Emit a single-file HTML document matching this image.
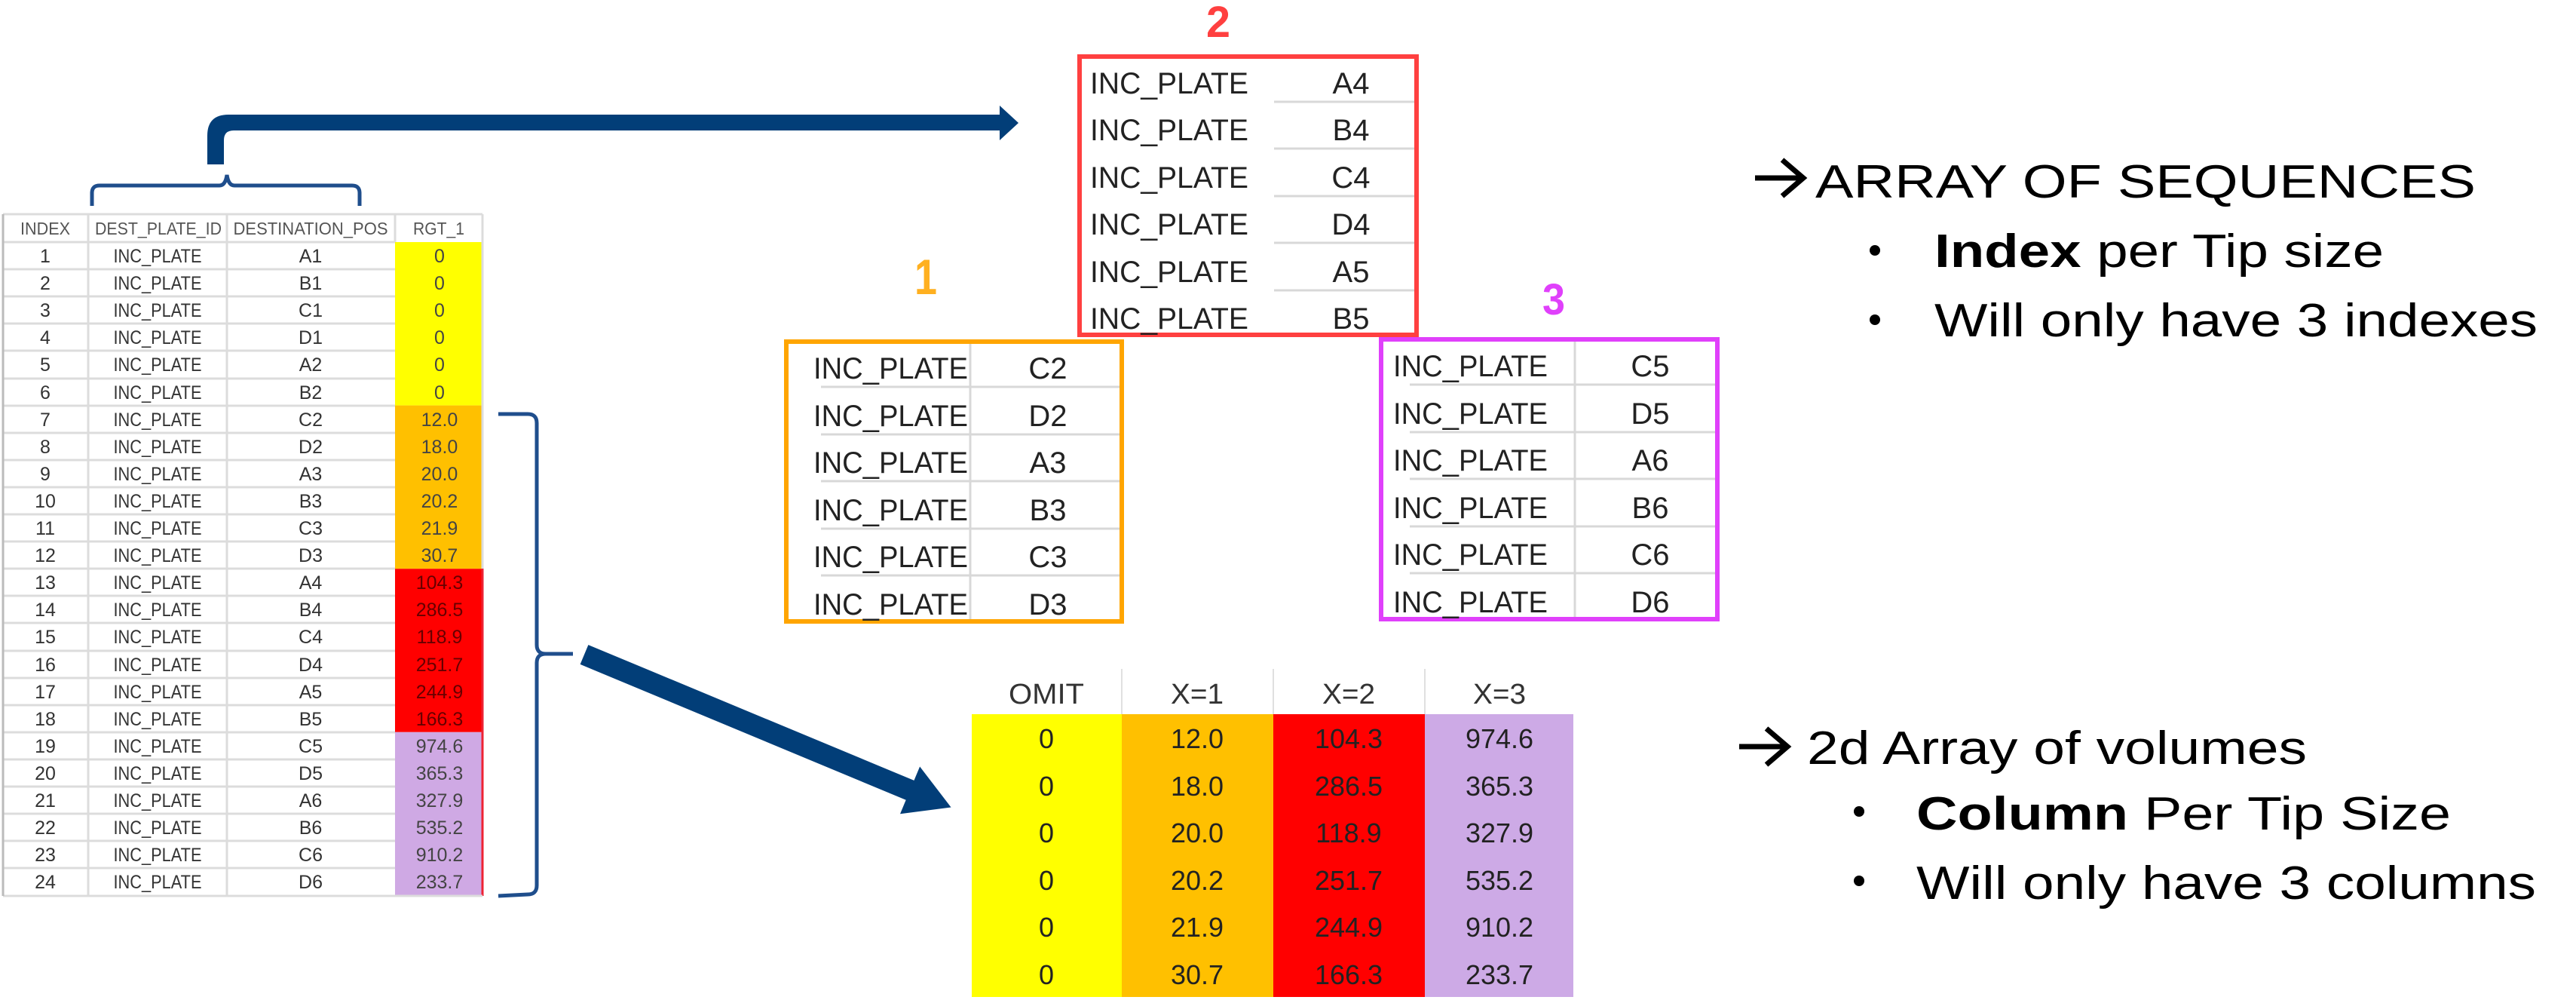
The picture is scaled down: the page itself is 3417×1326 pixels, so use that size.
<!DOCTYPE html>
<html><head><meta charset="utf-8"><style>html,body{margin:0;padding:0;background:#fff}svg{display:block}</style></head>
<body>
<svg width="3417" height="1326" viewBox="0 0 3417 1326" xmlns="http://www.w3.org/2000/svg" font-family="Liberation Sans, Arial, sans-serif">
<rect width="3417" height="1326" fill="#fff"/>

<!-- LEFT TABLE -->
<rect x="524" y="321" width="116" height="216.6" fill="#ffff00"/>
<rect x="524" y="537.6" width="116" height="216.6" fill="#ffc000"/>
<rect x="524" y="754.2" width="116" height="216.6" fill="#ff0000"/>
<rect x="524" y="970.8" width="116" height="217" fill="#cfa9e4"/>
<line x1="640" y1="754" x2="640" y2="1188" stroke="#ee2233" stroke-width="3"/>
<g stroke="#dcdcdc" stroke-width="3">
<line x1="4" y1="284" x2="640" y2="284"/>
<line x1="4" y1="321" x2="524" y2="321"/><line x1="4" y1="357" x2="524" y2="357"/><line x1="4" y1="393" x2="524" y2="393"/><line x1="4" y1="429" x2="524" y2="429"/><line x1="4" y1="465" x2="524" y2="465"/><line x1="4" y1="502" x2="524" y2="502"/><line x1="4" y1="538" x2="524" y2="538"/><line x1="4" y1="574" x2="524" y2="574"/><line x1="4" y1="610" x2="524" y2="610"/><line x1="4" y1="646" x2="524" y2="646"/><line x1="4" y1="682" x2="524" y2="682"/><line x1="4" y1="718" x2="524" y2="718"/><line x1="4" y1="754" x2="524" y2="754"/><line x1="4" y1="790" x2="524" y2="790"/><line x1="4" y1="826" x2="524" y2="826"/><line x1="4" y1="863" x2="524" y2="863"/><line x1="4" y1="899" x2="524" y2="899"/><line x1="4" y1="935" x2="524" y2="935"/><line x1="4" y1="971" x2="524" y2="971"/><line x1="4" y1="1007" x2="524" y2="1007"/><line x1="4" y1="1043" x2="524" y2="1043"/><line x1="4" y1="1079" x2="524" y2="1079"/><line x1="4" y1="1115" x2="524" y2="1115"/><line x1="4" y1="1151" x2="524" y2="1151"/><line x1="4" y1="1188" x2="640" y2="1188"/>
<line x1="117" y1="284" x2="117" y2="1188"/><line x1="301" y1="284" x2="301" y2="1188"/><line x1="524" y1="284" x2="524" y2="321"/><line x1="640" y1="284" x2="640" y2="754"/>
</g>
<line x1="4" y1="284" x2="4" y2="1188" stroke="#bbb" stroke-width="3"/>
<g font-size="23" fill="#555" text-anchor="middle">
<text x="60" y="311" textLength="66" lengthAdjust="spacingAndGlyphs">INDEX</text>
<text x="210" y="311" textLength="168" lengthAdjust="spacingAndGlyphs">DEST_PLATE_ID</text>
<text x="412" y="311" textLength="205" lengthAdjust="spacingAndGlyphs">DESTINATION_POS</text>
<text x="582" y="311" textLength="68" lengthAdjust="spacingAndGlyphs">RGT_1</text>
</g>
<g font-size="25" fill="#333" text-anchor="middle">
<text x="60" y="348">1</text><text x="60" y="384">2</text><text x="60" y="420">3</text><text x="60" y="456">4</text><text x="60" y="492">5</text><text x="60" y="529">6</text><text x="60" y="565">7</text><text x="60" y="601">8</text><text x="60" y="637">9</text><text x="60" y="673">10</text><text x="60" y="709">11</text><text x="60" y="745">12</text><text x="60" y="781">13</text><text x="60" y="817">14</text><text x="60" y="853">15</text><text x="60" y="890">16</text><text x="60" y="926">17</text><text x="60" y="962">18</text><text x="60" y="998">19</text><text x="60" y="1034">20</text><text x="60" y="1070">21</text><text x="60" y="1106">22</text><text x="60" y="1142">23</text><text x="60" y="1178">24</text>
</g>
<g font-size="25" fill="#333" text-anchor="middle">
<text x="209" y="348" textLength="117" lengthAdjust="spacingAndGlyphs">INC_PLATE</text><text x="209" y="384" textLength="117" lengthAdjust="spacingAndGlyphs">INC_PLATE</text><text x="209" y="420" textLength="117" lengthAdjust="spacingAndGlyphs">INC_PLATE</text><text x="209" y="456" textLength="117" lengthAdjust="spacingAndGlyphs">INC_PLATE</text><text x="209" y="492" textLength="117" lengthAdjust="spacingAndGlyphs">INC_PLATE</text><text x="209" y="529" textLength="117" lengthAdjust="spacingAndGlyphs">INC_PLATE</text><text x="209" y="565" textLength="117" lengthAdjust="spacingAndGlyphs">INC_PLATE</text><text x="209" y="601" textLength="117" lengthAdjust="spacingAndGlyphs">INC_PLATE</text><text x="209" y="637" textLength="117" lengthAdjust="spacingAndGlyphs">INC_PLATE</text><text x="209" y="673" textLength="117" lengthAdjust="spacingAndGlyphs">INC_PLATE</text><text x="209" y="709" textLength="117" lengthAdjust="spacingAndGlyphs">INC_PLATE</text><text x="209" y="745" textLength="117" lengthAdjust="spacingAndGlyphs">INC_PLATE</text><text x="209" y="781" textLength="117" lengthAdjust="spacingAndGlyphs">INC_PLATE</text><text x="209" y="817" textLength="117" lengthAdjust="spacingAndGlyphs">INC_PLATE</text><text x="209" y="853" textLength="117" lengthAdjust="spacingAndGlyphs">INC_PLATE</text><text x="209" y="890" textLength="117" lengthAdjust="spacingAndGlyphs">INC_PLATE</text><text x="209" y="926" textLength="117" lengthAdjust="spacingAndGlyphs">INC_PLATE</text><text x="209" y="962" textLength="117" lengthAdjust="spacingAndGlyphs">INC_PLATE</text><text x="209" y="998" textLength="117" lengthAdjust="spacingAndGlyphs">INC_PLATE</text><text x="209" y="1034" textLength="117" lengthAdjust="spacingAndGlyphs">INC_PLATE</text><text x="209" y="1070" textLength="117" lengthAdjust="spacingAndGlyphs">INC_PLATE</text><text x="209" y="1106" textLength="117" lengthAdjust="spacingAndGlyphs">INC_PLATE</text><text x="209" y="1142" textLength="117" lengthAdjust="spacingAndGlyphs">INC_PLATE</text><text x="209" y="1178" textLength="117" lengthAdjust="spacingAndGlyphs">INC_PLATE</text>
</g>
<g font-size="25" fill="#333" text-anchor="middle">
<text x="412" y="348">A1</text><text x="412" y="384">B1</text><text x="412" y="420">C1</text><text x="412" y="456">D1</text><text x="412" y="492">A2</text><text x="412" y="529">B2</text><text x="412" y="565">C2</text><text x="412" y="601">D2</text><text x="412" y="637">A3</text><text x="412" y="673">B3</text><text x="412" y="709">C3</text><text x="412" y="745">D3</text><text x="412" y="781">A4</text><text x="412" y="817">B4</text><text x="412" y="853">C4</text><text x="412" y="890">D4</text><text x="412" y="926">A5</text><text x="412" y="962">B5</text><text x="412" y="998">C5</text><text x="412" y="1034">D5</text><text x="412" y="1070">A6</text><text x="412" y="1106">B6</text><text x="412" y="1142">C6</text><text x="412" y="1178">D6</text>
</g>
<g font-size="25" fill="#444" text-anchor="middle">
<text x="583" y="348">0</text><text x="583" y="384">0</text><text x="583" y="420">0</text><text x="583" y="456">0</text><text x="583" y="492">0</text><text x="583" y="529">0</text>
<text x="583" y="565">12.0</text><text x="583" y="601">18.0</text><text x="583" y="637">20.0</text><text x="583" y="673">20.2</text><text x="583" y="709">21.9</text><text x="583" y="745">30.7</text>
<text x="583" y="781" fill="#600">104.3</text><text x="583" y="817" fill="#600">286.5</text><text x="583" y="853" fill="#600">118.9</text><text x="583" y="890" fill="#600">251.7</text><text x="583" y="926" fill="#600">244.9</text><text x="583" y="962" fill="#600">166.3</text>
<text x="583" y="998">974.6</text><text x="583" y="1034">365.3</text><text x="583" y="1070">327.9</text><text x="583" y="1106">535.2</text><text x="583" y="1142">910.2</text><text x="583" y="1178">233.7</text>
</g>

<!-- top bracket -->
<path d="M122,273 L122,256 Q122,246 132,246 L291,246 Q299,246 301,232 Q303,246 311,246 L467,246 Q477,246 477,256 L477,273" fill="none" stroke="#1f4e8c" stroke-width="5"/>
<!-- bent thick arrow -->
<path d="M275,218 L275,180 Q275,152 303,152 L1326,152 L1326,140 L1351,163 L1326,186 L1326,173 L310,173 Q297,173 297,186 L297,218 Z" fill="#023e78"/>

<!-- right bracket -->
<path d="M661,549 L700,549 Q712,549 712,561 L712,855 Q712,867 724,867 L760,867" fill="none" stroke="#1f4e8c" stroke-width="5"/>
<path d="M724,867 Q712,867 712,879 L712,1174 Q712,1186 700,1186 L661,1188" fill="none" stroke="#1f4e8c" stroke-width="5"/>

<!-- diagonal arrow -->
<g transform="translate(775,868) rotate(22.6)">
<polygon points="0,-14 468,-14 468,-34 527,0 468,34 468,14 0,14" fill="#023e78"/>
</g>

<!-- Box 2 -->
<text x="1616" y="49" font-size="58" font-weight="bold" fill="#ff4040" text-anchor="middle" textLength="32" lengthAdjust="spacingAndGlyphs">2</text>
<g stroke="#d8d8d8" stroke-width="3">
<line x1="1690" y1="135" x2="1878" y2="135"/><line x1="1690" y1="197" x2="1878" y2="197"/><line x1="1690" y1="260" x2="1878" y2="260"/><line x1="1690" y1="322" x2="1878" y2="322"/><line x1="1690" y1="385" x2="1878" y2="385"/>
</g>
<rect x="1432" y="75" width="447" height="369" fill="none" stroke="#ff4040" stroke-width="6"/>
<g font-size="40" fill="#222">
<text x="1446" y="124" textLength="210" lengthAdjust="spacingAndGlyphs">INC_PLATE</text><text x="1446" y="186" textLength="210" lengthAdjust="spacingAndGlyphs">INC_PLATE</text><text x="1446" y="249" textLength="210" lengthAdjust="spacingAndGlyphs">INC_PLATE</text><text x="1446" y="311" textLength="210" lengthAdjust="spacingAndGlyphs">INC_PLATE</text><text x="1446" y="374" textLength="210" lengthAdjust="spacingAndGlyphs">INC_PLATE</text><text x="1446" y="436" textLength="210" lengthAdjust="spacingAndGlyphs">INC_PLATE</text>
</g>
<g font-size="40" fill="#222" text-anchor="middle">
<text x="1792" y="124">A4</text><text x="1792" y="186">B4</text><text x="1792" y="249">C4</text><text x="1792" y="311">D4</text><text x="1792" y="374">A5</text><text x="1792" y="436">B5</text>
</g>

<!-- Box 1 -->
<text x="1228" y="390" font-size="66" font-weight="bold" fill="#ffb020" text-anchor="middle" textLength="30" lengthAdjust="spacingAndGlyphs">1</text>
<g stroke="#d8d8d8" stroke-width="3">
<line x1="1287" y1="453" x2="1287" y2="824"/>
<line x1="1089" y1="513" x2="1488" y2="513"/><line x1="1089" y1="576" x2="1488" y2="576"/><line x1="1089" y1="638" x2="1488" y2="638"/><line x1="1089" y1="701" x2="1488" y2="701"/><line x1="1089" y1="763" x2="1488" y2="763"/>
</g>
<rect x="1043" y="453" width="445" height="371" fill="none" stroke="#ffa500" stroke-width="6"/>
<g font-size="40" fill="#222">
<text x="1079" y="502" textLength="205" lengthAdjust="spacingAndGlyphs">INC_PLATE</text><text x="1079" y="565" textLength="205" lengthAdjust="spacingAndGlyphs">INC_PLATE</text><text x="1079" y="627" textLength="205" lengthAdjust="spacingAndGlyphs">INC_PLATE</text><text x="1079" y="690" textLength="205" lengthAdjust="spacingAndGlyphs">INC_PLATE</text><text x="1079" y="752" textLength="205" lengthAdjust="spacingAndGlyphs">INC_PLATE</text><text x="1079" y="815" textLength="205" lengthAdjust="spacingAndGlyphs">INC_PLATE</text>
</g>
<g font-size="40" fill="#222" text-anchor="middle">
<text x="1390" y="502">C2</text><text x="1390" y="565">D2</text><text x="1390" y="627">A3</text><text x="1390" y="690">B3</text><text x="1390" y="752">C3</text><text x="1390" y="815">D3</text>
</g>

<!-- Box 3 -->
<text x="2061" y="417" font-size="58" font-weight="bold" fill="#e040fb" text-anchor="middle" textLength="30" lengthAdjust="spacingAndGlyphs">3</text>
<g stroke="#d8d8d8" stroke-width="3">
<line x1="2089" y1="450" x2="2089" y2="821"/>
<line x1="1870" y1="510" x2="2278" y2="510"/><line x1="1870" y1="573" x2="2278" y2="573"/><line x1="1870" y1="635" x2="2278" y2="635"/><line x1="1870" y1="698" x2="2278" y2="698"/><line x1="1870" y1="760" x2="2278" y2="760"/>
</g>
<rect x="1832" y="450" width="446" height="371" fill="none" stroke="#e040fb" stroke-width="6"/>
<g font-size="40" fill="#222">
<text x="1848" y="499" textLength="205" lengthAdjust="spacingAndGlyphs">INC_PLATE</text><text x="1848" y="562" textLength="205" lengthAdjust="spacingAndGlyphs">INC_PLATE</text><text x="1848" y="624" textLength="205" lengthAdjust="spacingAndGlyphs">INC_PLATE</text><text x="1848" y="687" textLength="205" lengthAdjust="spacingAndGlyphs">INC_PLATE</text><text x="1848" y="749" textLength="205" lengthAdjust="spacingAndGlyphs">INC_PLATE</text><text x="1848" y="812" textLength="205" lengthAdjust="spacingAndGlyphs">INC_PLATE</text>
</g>
<g font-size="40" fill="#222" text-anchor="middle">
<text x="2189" y="499">C5</text><text x="2189" y="562">D5</text><text x="2189" y="624">A6</text><text x="2189" y="687">B6</text><text x="2189" y="749">C6</text><text x="2189" y="812">D6</text>
</g>

<!-- Bottom table -->
<rect x="1289" y="947" width="199" height="375" fill="#ffff00"/>
<rect x="1488" y="947" width="201" height="375" fill="#ffc000"/>
<rect x="1689" y="947" width="201" height="375" fill="#ff0000"/>
<rect x="1890" y="947" width="197" height="375" fill="#cdaae6"/>
<g stroke="#e0e0e0" stroke-width="2">
<line x1="1488" y1="887" x2="1488" y2="947"/><line x1="1689" y1="887" x2="1689" y2="947"/><line x1="1890" y1="887" x2="1890" y2="947"/>
</g>
<g font-size="38" fill="#333" text-anchor="middle">
<text x="1388" y="933" textLength="100" lengthAdjust="spacingAndGlyphs">OMIT</text>
<text x="1588" y="933" textLength="70" lengthAdjust="spacingAndGlyphs">X=1</text>
<text x="1789" y="933" textLength="70" lengthAdjust="spacingAndGlyphs">X=2</text>
<text x="1989" y="933" textLength="70" lengthAdjust="spacingAndGlyphs">X=3</text>
</g>
<g font-size="36" fill="#222" text-anchor="middle">
<text x="1388" y="992">0</text><text x="1388" y="1055">0</text><text x="1388" y="1117">0</text><text x="1388" y="1180">0</text><text x="1388" y="1242">0</text><text x="1388" y="1305">0</text>
<text x="1588" y="992">12.0</text><text x="1588" y="1055">18.0</text><text x="1588" y="1117">20.0</text><text x="1588" y="1180">20.2</text><text x="1588" y="1242">21.9</text><text x="1588" y="1305">30.7</text>
<text x="1789" y="992">104.3</text><text x="1789" y="1055">286.5</text><text x="1789" y="1117">118.9</text><text x="1789" y="1180">251.7</text><text x="1789" y="1242">244.9</text><text x="1789" y="1305">166.3</text>
<text x="1989" y="992">974.6</text><text x="1989" y="1055">365.3</text><text x="1989" y="1117">327.9</text><text x="1989" y="1180">535.2</text><text x="1989" y="1242">910.2</text><text x="1989" y="1305">233.7</text>
</g>

<!-- arrow glyphs drawn -->
<g stroke="#000" stroke-width="7" fill="none" stroke-linejoin="miter">
<line x1="2328" y1="236" x2="2388" y2="236"/>
<polyline points="2364,212 2392,236 2364,260"/>
<line x1="2307" y1="990" x2="2367" y2="990"/>
<polyline points="2343,966 2371,990 2343,1014"/>
</g>

<!-- Right text top -->
<g font-size="62" fill="#000">
<text x="2408" y="262" textLength="876" lengthAdjust="spacingAndGlyphs">ARRAY OF SEQUENCES</text>
<circle cx="2487" cy="332" r="7"/>
<text x="2566" y="354" textLength="596" lengthAdjust="spacingAndGlyphs"><tspan font-weight="bold">Index</tspan> per Tip size</text>
<circle cx="2487" cy="424" r="7"/>
<text x="2566" y="446" textLength="800" lengthAdjust="spacingAndGlyphs">Will only have 3 indexes</text>
</g>
<!-- Right text bottom -->
<g font-size="62" fill="#000">
<text x="2397" y="1013" textLength="663" lengthAdjust="spacingAndGlyphs">2d Array of volumes</text>
<circle cx="2466" cy="1076" r="7"/>
<text x="2542" y="1100" textLength="709" lengthAdjust="spacingAndGlyphs"><tspan font-weight="bold">Column</tspan> Per Tip Size</text>
<circle cx="2466" cy="1168" r="7"/>
<text x="2542" y="1192" textLength="822" lengthAdjust="spacingAndGlyphs">Will only have 3 columns</text>
</g>
</svg>
</body></html>
